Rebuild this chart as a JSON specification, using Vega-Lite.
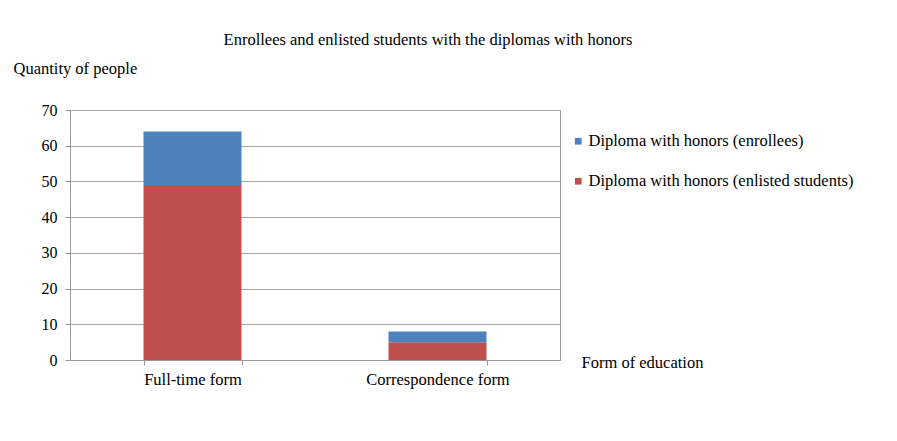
{
  "$schema": "https://vega.github.io/schema/vega-lite/v6.json",
  "autosize": {"type": "none"},
  "width": 490,
  "height": 250,
  "padding": {"left": 70, "top": 110, "right": 337, "bottom": 81},
  "background": "white",
  "title": {
    "text": "Enrollees and enlisted students with the diplomas with honors",
    "frame": "group",
    "anchor": "middle",
    "dx": 113,
    "offset": 12,
    "font": "Liberation Serif",
    "fontSize": 16.5,
    "fontWeight": "normal",
    "color": "black"
  },
  "data": {
    "values": [
      {"form": "Full-time form", "series": "Diploma with honors (enlisted students)", "people": 49},
      {"form": "Full-time form", "series": "Diploma with honors (enrollees)", "people": 15},
      {"form": "Correspondence form", "series": "Diploma with honors (enlisted students)", "people": 5},
      {"form": "Correspondence form", "series": "Diploma with honors (enrollees)", "people": 3}
    ]
  },
  "mark": {"type": "bar"},
  "encoding": {
    "x": {
      "field": "form",
      "type": "nominal",
      "sort": ["Full-time form", "Correspondence form"],
      "scale": {"paddingInner": 0.6, "paddingOuter": 0.3},
      "axis": {
        "title": "Form of education",
        "titleAlign": "left",
        "titleBaseline": "middle",
        "titleAnchor": "start",
        "titleX": 511,
        "titleY": 2,
        "titleFont": "Liberation Serif",
        "titleFontSize": 16.5,
        "titleFontWeight": "normal",
        "titleColor": "black",
        "labelAngle": 0,
        "labelFont": "Liberation Serif",
        "labelFontSize": 16.5,
        "labelColor": "black",
        "labelPadding": 6,
        "tickBand": "extent",
        "tickSize": 5,
        "tickColor": "#999999",
        "domainColor": "#999999",
        "grid": false
      }
    },
    "y": {
      "field": "people",
      "type": "quantitative",
      "aggregate": "sum",
      "stack": "zero",
      "scale": {"domain": [0, 70], "nice": false},
      "axis": {
        "title": "Quantity of people",
        "titleAngle": 0,
        "titleAlign": "left",
        "titleBaseline": "middle",
        "titleX": -57,
        "titleY": -42,
        "titleFont": "Liberation Serif",
        "titleFontSize": 16.5,
        "titleFontWeight": "normal",
        "titleColor": "black",
        "values": [0, 10, 20, 30, 40, 50, 60, 70],
        "labelFont": "Liberation Serif",
        "labelFontSize": 16,
        "labelColor": "black",
        "labelPadding": 8,
        "tickSize": 5,
        "tickColor": "#999999",
        "domainColor": "#999999",
        "gridColor": "#A6A6A6",
        "gridWidth": 1
      }
    },
    "color": {
      "field": "series",
      "type": "nominal",
      "scale": {
        "domain": ["Diploma with honors (enrollees)", "Diploma with honors (enlisted students)"],
        "range": ["#4F81BD", "#C0504D"]
      },
      "legend": {
        "title": null,
        "orient": "none",
        "legendX": 500,
        "legendY": 23,
        "symbolType": "square",
        "symbolSize": 45,
        "symbolStrokeWidth": 0,
        "labelFont": "Liberation Serif",
        "labelFontSize": 16.5,
        "labelColor": "black",
        "labelOffset": 2,
        "rowPadding": 23,
        "labelLimit": 400
      }
    },
    "order": {"field": "series", "sort": "ascending"}
  },
  "config": {
    "view": {"stroke": "#999999", "strokeWidth": 1}
  }
}
